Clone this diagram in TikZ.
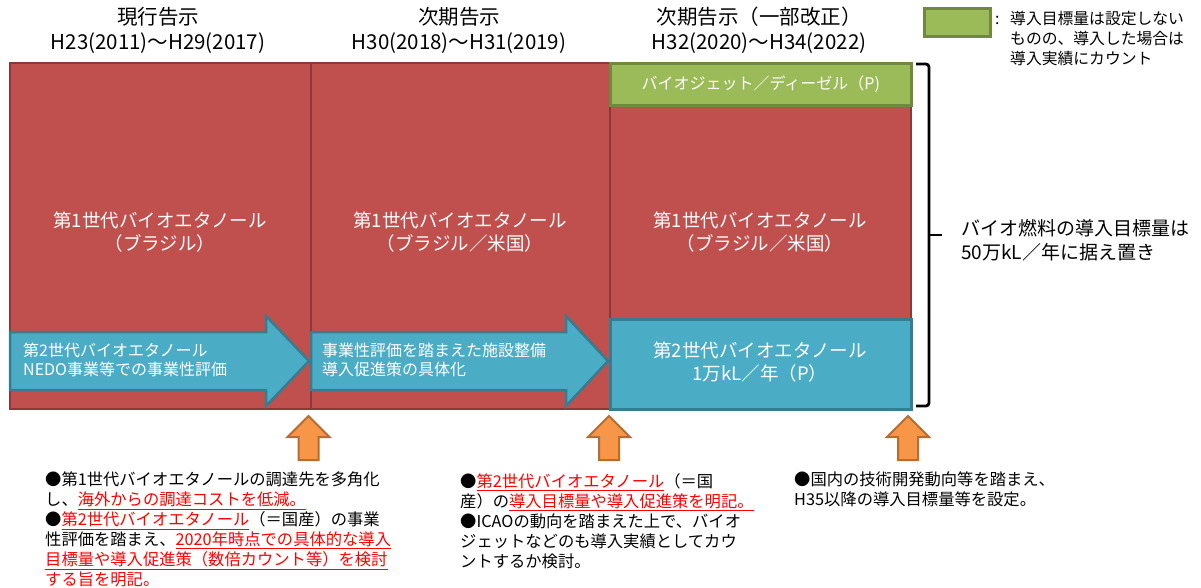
\documentclass[tikz,border=0pt]{standalone}
\usepackage{fontspec}
\setmainfont{Noto Sans CJK JP}
\definecolor{redfill}{HTML}{C0504D}
\definecolor{redline}{HTML}{8C3836}
\definecolor{greenfill}{HTML}{9BBB59}
\definecolor{greenline}{HTML}{71893F}
\definecolor{cyanfill}{HTML}{4BACC6}
\definecolor{cyanline}{HTML}{357D91}
\definecolor{orangefill}{HTML}{F79646}
\definecolor{orangeline}{HTML}{B66D31}
\definecolor{notered}{HTML}{FF0000}
\newcommand{\rl}[1]{\textcolor{notered}{\underline{#1}}}
\tikzset{
  redcol/.style={fill=redfill, draw=redline, line width=2pt},
  greenbox/.style={fill=greenfill, draw=greenline, line width=2.5pt},
  cyanbox/.style={fill=cyanfill, draw=cyanline, line width=2.5pt},
  cyanarrow/.style={fill=cyanfill, draw=cyanline, line width=2.5pt, line join=miter},
  uparrow/.style={fill=orangefill, draw=orangeline, line width=2pt},
  head/.style={inner sep=0pt, align=center, font=\fontsize{20.5pt}{25pt}\selectfont},
  blocktext/.style={inner sep=0pt, align=center, text=white, font=\fontsize{18.5pt}{23pt}\selectfont},
  arrowtext/.style={inner sep=0pt, align=left, text=white, font=\fontsize{16pt}{19pt}\selectfont},
  note/.style={inner sep=0pt, align=left, anchor=north west, font=\fontsize{16.3pt}{20pt}\selectfont},
  legendtext/.style={inner sep=0pt, align=left, font=\fontsize{15.8pt}{20pt}\selectfont},
  brace/.style={draw=black, line width=2.8pt, rounded corners=3pt},
}
\begin{document}
\begin{tikzpicture}[x=1pt,y=-1pt]
\useasboundingbox (0,0) rectangle (1201,587);
% headers
\node[head] (h1) at (158,30) {現行告示\\H23(2011)～H29(2017)};
\node[head] (h2) at (459,30) {次期告示\\H30(2018)～H31(2019)};
\node[head] (h3) at (759,30) {次期告示（一部改正）\\H32(2020)～H34(2022)};
% legend
\node[greenbox, minimum width=66pt, minimum height=28pt, anchor=north west] (leg) at (923,7) {};
\node[legendtext, anchor=west] (legc) at (995,20) {:};
\node[legendtext, anchor=north west] (legt) at (1010,11) {導入目標量は設定しない\\ものの、導入した場合は\\導入実績にカウント};
% main columns
\node[redcol, minimum width=301pt, minimum height=346pt, anchor=north west] (c1) at (9,62) {};
\node[redcol, minimum width=299pt, minimum height=346pt, anchor=north west] (c2) at (310,62) {};
\node[redcol, minimum width=301pt, minimum height=346pt, anchor=north west] (c3) at (609,62) {};
\node[greenbox, minimum width=301pt, minimum height=42pt, anchor=north west] (gb) at (609,62) {};
\node[inner sep=0pt, text=white, font=\fontsize{16pt}{19pt}\selectfont] (gbt) at (gb.center) {バイオジェット／ディーゼル（P)};
\node[cyanbox, minimum width=301pt, minimum height=90pt, anchor=north west] (cb) at (609,318) {};
\node[blocktext] (cbt) at (760,362) {第2世代バイオエタノール\\1万kL／年（P）};
% block texts
\node[blocktext] (t1) at (160,232) {第1世代バイオエタノール\\（ブラジル）};
\node[blocktext] (t2) at (460,232) {第1世代バイオエタノール\\（ブラジル／米国）};
\node[blocktext] (t3) at (760,232) {第1世代バイオエタノール\\（ブラジル／米国）};
% cyan arrows
\draw[cyanarrow] (10,332) -- (266,332) -- (266,316) -- (309,361) -- (266,406) -- (266,390) -- (10,390) -- cycle;
\draw[cyanarrow] (311,332) -- (566,332) -- (566,316) -- (608,361) -- (566,406) -- (566,390) -- (311,390) -- cycle;
\node[arrowtext, anchor=west] (a1) at (23,360) {第2世代バイオエタノール\\NEDO事業等での事業性評価};
\node[arrowtext, anchor=west] (a2) at (322,360) {事業性評価を踏まえた施設整備\\導入促進策の具体化};
% brace
\coordinate (bt) at (916,64);
\coordinate (bb) at (916,406);
\coordinate (bm) at (942,235);
\draw[brace] (bt) -- (929,64) -- (929,406) -- (bb);
\draw[brace, rounded corners=0pt] (929,235) -- (bm);
\node[inner sep=0pt, align=left, anchor=west, font=\fontsize{19pt}{24pt}\selectfont] (goal) at (961,240) {バイオ燃料の導入目標量は\\50万kL／年に据え置き};
% orange up arrows
\foreach \cx/\nm in {308.5/u1, 609/u2, 908/u3} {
  \draw[uparrow] (\cx-10,460) -- (\cx-10,437) -- (\cx-21,437) -- (\cx,416) -- (\cx+21,437) -- (\cx+10,437) -- (\cx+10,460) -- cycle;
}
% notes
\node[note] (n1) at (45,472) {●第1世代バイオエタノールの調達先を多角化\\し、\rl{海外からの調達コストを低減。}\\●\rl{第2世代バイオエタノール}（＝国産）の事業\\性評価を踏まえ、\rl{2020年時点での具体的な導入}\\\rl{目標量や導入促進策（数倍カウント等）を検討}\\\rl{する旨を明記。}};
\node[note] (n2) at (460,473) {●\rl{第2世代バイオエタノール}（＝国\\産）の\rl{導入目標量や導入促進策を明記。}\\●ICAOの動向を踏まえた上で、バイオ\\ジェットなどのも導入実績としてカウ\\ントするか検討。};
\node[note] (n3) at (794,472) {●国内の技術開発動向等を踏まえ、\\H35以降の導入目標量等を設定。};
\end{tikzpicture}
\end{document}
